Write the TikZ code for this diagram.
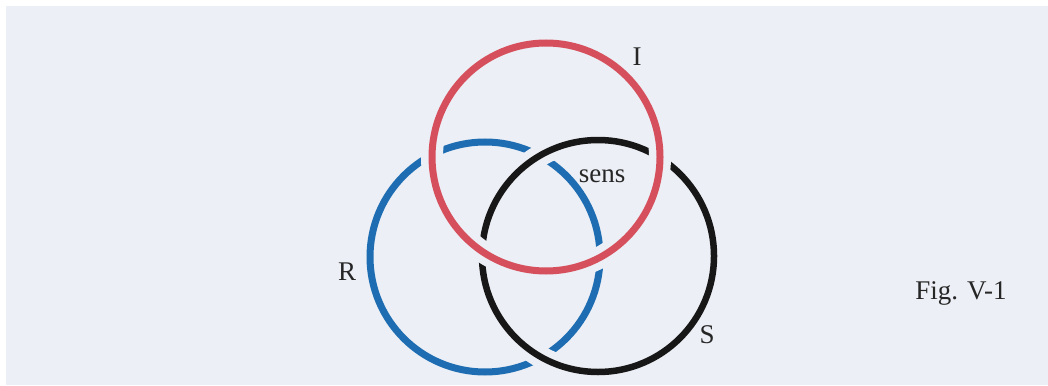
\documentclass[tikz,border=0pt]{standalone}
\usepackage{fontspec}
\setmainfont{Liberation Serif}
\definecolor{bg}{HTML}{ECEFF5}
\definecolor{ringred}{HTML}{D64F5C}
\definecolor{ringblue}{HTML}{1E6DB2}
\definecolor{ringblack}{HTML}{171717}
\tikzset{
  ring/.style={line width=7pt},
  halo/.style={line width=22pt, draw=bg},
  lbl/.style={font=\fontsize{27}{29}\selectfont, text=black!85, inner sep=0pt}
}
\begin{document}
\begin{tikzpicture}[x=1pt,y=-1pt]
  \useasboundingbox (0,0) rectangle (1048,385);
  \fill[white] (0,0) rectangle (1048,385);
  \fill[bg] (6,6) rectangle (1048,385);
  \coordinate (cR) at (485,257);
  \coordinate (cS) at (598,256);
  \coordinate (cI) at (546,157);
  % blue (lowest)
  \draw[ring, ringblue] (cR) circle[radius=115];
  % black over blue
  \draw[halo] (cS) circle[radius=116];
  \draw[ring, ringblack, line width=6.5pt] (cS) circle[radius=116];
  % red over both
  \draw[halo] (cI) circle[radius=114];
  \draw[ring, ringred] (cI) circle[radius=114];
  % labels
  \node[lbl] (lI) at (637,57) {I};
  \node[lbl] (lsens) at (602,176) {sens};
  \node[lbl] (lR) at (347,272) {R};
  \node[lbl] (lS) at (707,335) {S};
  \node[lbl] (lfig) at (961,293) {Fig. V-1};
\end{tikzpicture}
\end{document}
